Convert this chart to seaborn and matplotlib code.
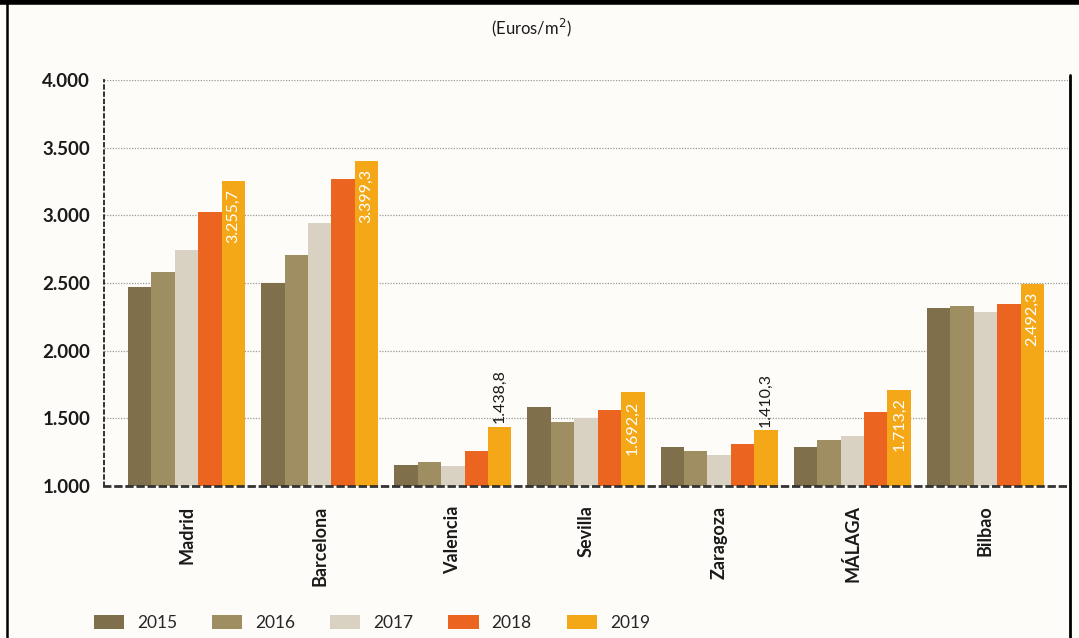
import numpy as np
import matplotlib
matplotlib.use("Agg")
import matplotlib.pyplot as plt
from matplotlib.lines import Line2D
import seaborn as sns
import pandas as pd

cities = ["Madrid", "Barcelona", "Valencia", "Sevilla", "Zaragoza", "MÁLAGA", "Bilbao"]
years = ["2015", "2016", "2017", "2018", "2019"]
v2015 = [2470, 2500, 1155, 1584, 1288, 1288, 2315]
v2016 = [2581, 2707, 1177, 1473, 1259, 1340, 2330]
v2017 = [2744, 2944, 1148, 1503, 1229, 1369, 2286]
v2018 = [3025, 3269, 1259, 1562, 1310, 1547, 2345]
v2019 = [3255.7, 3399.3, 1438.8, 1692.2, 1410.3, 1713.2, 2492.3]
colors = ["#7f6f4a", "#a08e63", "#d9d2c3", "#ec6520", "#f4a817"]
outside = ["Valencia", "Zaragoza"]  # labels drawn above the bar

rows = []
for y, vals in zip(years, [v2015, v2016, v2017, v2018, v2019]):
    for c, v in zip(cities, vals):
        rows.append({"city": c, "year": y, "value": v})
df = pd.DataFrame(rows)

sns.set_style("white")
plt.rcParams["font.family"] = ["Lato", "DejaVu Sans"]
bg = "#fdfcf8"

fig = plt.figure(figsize=(10.79, 6.38), dpi=100, facecolor=bg)
ax = fig.add_axes([0.0964, 0.2382, 0.8934, 0.6364])
ax.set_facecolor(bg)

sns.barplot(data=df, x="city", y="value", hue="year", order=cities, hue_order=years,
            palette=colors, saturation=1, width=0.88, ax=ax, legend=True)
for bar in ax.patches:
    bar.set_edgecolor("none")

ax.set_ylim(1000, 4000)
ax.set_xlim(-0.62, 6.62)
ticks = [1000, 1500, 2000, 2500, 3000, 3500, 4000]
ax.set_yticks(ticks)
ax.set_yticklabels([f"{t:,}".replace(",", ".") for t in ticks],
                   fontsize=13.5, fontweight="bold", color="#1a1a1a")
ax.set_xticks(range(len(cities)))
ax.set_xticklabels(cities, rotation=90, fontsize=13, fontweight="bold", color="#1a1a1a")
ax.tick_params(axis="y", length=0, pad=10)
ax.tick_params(axis="x", length=0, pad=14)
ax.set_xlabel("")
ax.set_ylabel("")
ax.yaxis.grid(True, linestyle=(0, (1, 1.2)), color="#999999", linewidth=0.9)
ax.set_axisbelow(True)

for s in ["top", "right"]:
    ax.spines[s].set_visible(False)
ax.spines["left"].set_linestyle((0, (2, 2)))
ax.spines["left"].set_linewidth(1.3)
ax.spines["left"].set_color("#222222")
ax.spines["bottom"].set_linestyle((0, (2, 2)))
ax.spines["bottom"].set_linewidth(2)
ax.spines["bottom"].set_color("#333333")

# value labels on the 2019 bars
for bar, city, v in zip(ax.containers[4], cities, v2019):
    x = bar.get_x() + bar.get_width() / 2
    txt = f"{v:,.1f}".replace(",", "X").replace(".", ",").replace("X", ".")
    if city in outside:
        ax.text(x, v + 25, txt, rotation=90, ha="center", va="bottom",
                fontsize=11.5, color="#1a1a1a")
    else:
        ax.text(x, v - 60, txt, rotation=90, ha="center", va="top",
                fontsize=11.5, color="white")

handles, labels = ax.get_legend_handles_labels()
ax.legend(handles, labels, ncol=5, frameon=False, loc="center left",
          bbox_to_anchor=(78 / 1079, 1 - 623 / 638), bbox_transform=fig.transFigure,
          fontsize=12.5, handlelength=1.75, handleheight=0.8, handletextpad=0.75,
          columnspacing=2.0)

fig.text(531 / 1079, 1 - 28 / 638, "(Euros/m$^2$)", ha="center", va="center",
         fontsize=12, color="#1a1a1a")

# page frame
fig.add_artist(Line2D([0, 1], [1 - 2 / 638, 1 - 2 / 638], transform=fig.transFigure,
                      color="black", linewidth=4))
fig.add_artist(Line2D([7 / 1079, 7 / 1079], [0, 1], transform=fig.transFigure,
                      color="black", linewidth=1.8))
fig.add_artist(Line2D([1070 / 1079, 1070 / 1079], [0, 1 - 75 / 638], transform=fig.transFigure,
                      color="black", linewidth=2))

fig.savefig("out.png", dpi=100, facecolor=bg)
